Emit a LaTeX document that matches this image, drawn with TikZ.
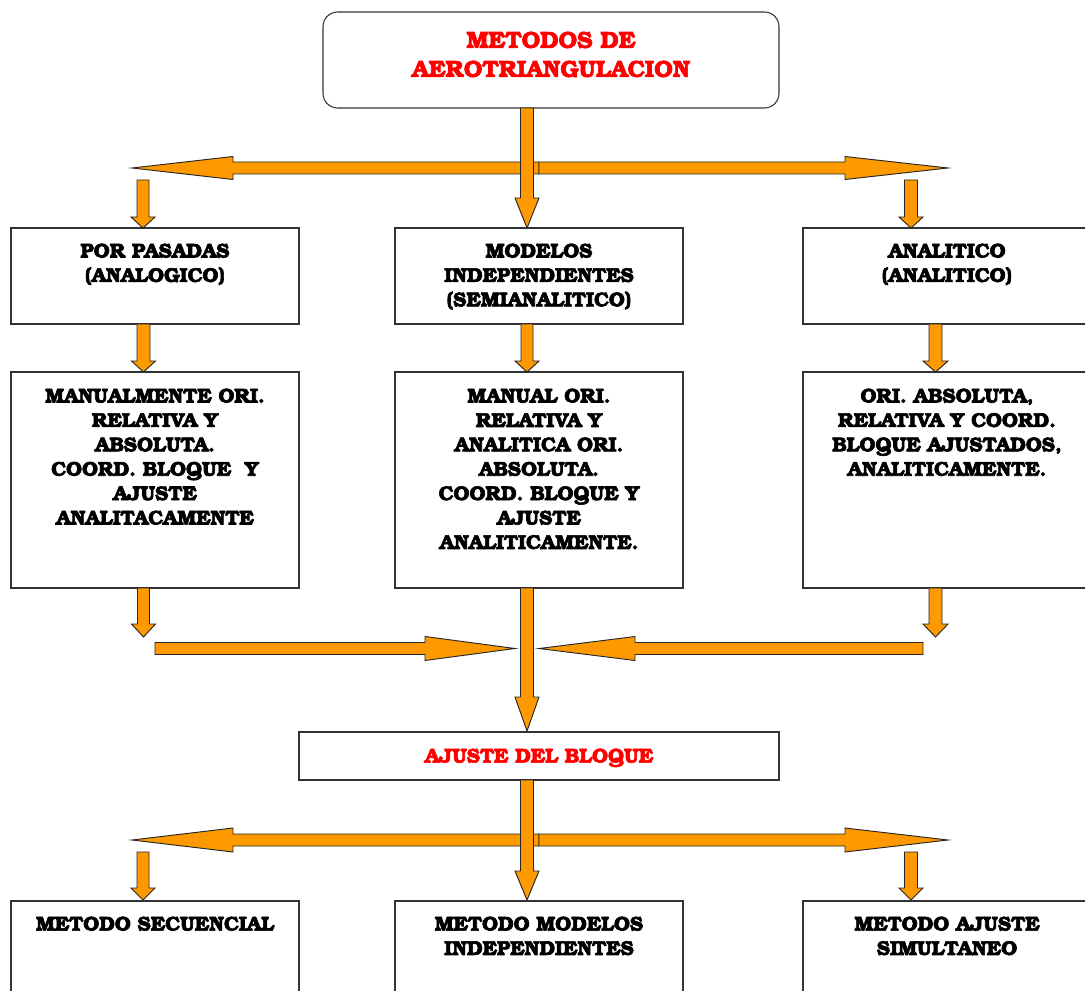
\documentclass[tikz,border=0pt]{standalone}
\usepackage[T1]{fontenc}
\usepackage{bookman}
\definecolor{arrorange}{RGB}{255,153,0}
\definecolor{titlered}{RGB}{255,0,0}
\newcommand\heavytext[1]{\special{pdf:literal direct 2 Tr 0.45 w}#1\special{pdf:literal direct 0 Tr}}
\tikzset{
  blk/.style={fill=arrorange, draw=black!85, line width=0.7pt, line join=miter},
  boxrect/.style={draw=black!80, line width=0.8pt, fill=white, inner sep=0pt},
  txt/.style={inner sep=0pt, align=center, font=\bfseries\fontsize{15}{18.3}\selectfont},
  ttl/.style={inner sep=0pt, align=center, text=titlered, font=\bfseries\fontsize{17.5}{21.75}\selectfont},
}
\newcommand\myvarrow[6]{% cx, ytop, ybase, ytip, shaft half, head half
  \draw[blk] ({#1-#5},#2) -- ({#1+#5},#2) -- ({#1+#5},#3) -- ({#1+#6},#3) -- (#1,#4) -- ({#1-#6},#3) -- ({#1-#5},#3) -- cycle;}
\newcommand\myharrow[6]{% cy, xstart, xbase, xtip, shaft half, head half
  \draw[blk] (#2,{#1-#5}) -- (#3,{#1-#5}) -- (#3,{#1-#6}) -- (#4,#1) -- (#3,{#1+#6}) -- (#3,{#1+#5}) -- (#2,{#1+#5}) -- cycle;}
\begin{document}
\begin{tikzpicture}[x=0.75pt,y=-0.75pt]
\useasboundingbox (0,0) rectangle (1085,991);
\clip (0,0) rectangle (1085,991);
% ---------- boxes ----------
\draw[boxrect, rounded corners=11pt] (323,12) rectangle (779,108);
\node[boxrect, minimum width=288*0.75pt, minimum height=96*0.75pt] (b1l) at (155,276) {};
\node[boxrect, minimum width=288*0.75pt, minimum height=96*0.75pt] (b1m) at (539,276) {};
\node[boxrect, minimum width=288*0.75pt, minimum height=96*0.75pt] (b1r) at (947,276) {};
\node[boxrect, minimum width=288*0.75pt, minimum height=216*0.75pt] (b2l) at (155,480) {};
\node[boxrect, minimum width=288*0.75pt, minimum height=216*0.75pt] (b2m) at (539,480) {};
\node[boxrect, minimum width=288*0.75pt, minimum height=216*0.75pt] (b2r) at (947,480) {};
\node[boxrect, minimum width=480*0.75pt, minimum height=48*0.75pt] (aj) at (539,756) {};
\node[boxrect, minimum width=288*0.75pt, minimum height=120*0.75pt] (b3l) at (155,961) {};
\node[boxrect, minimum width=288*0.75pt, minimum height=120*0.75pt] (b3m) at (539,961) {};
\node[boxrect, minimum width=288*0.75pt, minimum height=120*0.75pt] (b3r) at (947,961) {};
% ---------- texts ----------
\node[ttl, anchor=north] (ttl) at (551,31) {\heavytext{METODOS DE}\\\heavytext{AEROTRIANGULACION}};
\node[txt, anchor=north] (t1l) at (155,243) {\heavytext{POR PASADAS}\\\heavytext{(ANALOGICO)}};
\node[txt, anchor=north] (t1m) at (539,243) {\heavytext{MODELOS}\\\heavytext{INDEPENDIENTES}\\\heavytext{(SEMIANALITICO)}};
\node[txt, anchor=north] (t1r) at (947,243) {\heavytext{ANALITICO}\\\heavytext{(ANALITICO)}};
\node[txt, anchor=north] (t2l) at (155,388) {\heavytext{MANUALMENTE ORI.}\\\heavytext{RELATIVA Y}\\\heavytext{ABSOLUTA.}\\\heavytext{COORD. BLOQUE\ \ Y}\\\heavytext{AJUSTE}\\\heavytext{ANALITACAMENTE}};
\node[txt, anchor=north] (t2m) at (539,388) {\heavytext{MANUAL ORI.}\\\heavytext{RELATIVA Y}\\\heavytext{ANALITICA ORI.}\\\heavytext{ABSOLUTA.}\\\heavytext{COORD. BLOQUE Y}\\\heavytext{AJUSTE}\\\heavytext{ANALITICAMENTE.}};
\node[txt, anchor=north] (t2r) at (947,388) {\heavytext{ORI. ABSOLUTA,}\\\heavytext{RELATIVA Y COORD.}\\\heavytext{BLOQUE AJUSTADOS,}\\\heavytext{ANALITICAMENTE.}};
\node[txt, anchor=north, text=titlered] (taj) at (539,748) {\heavytext{AJUSTE DEL BLOQUE}};
\node[txt, anchor=north] (t3l) at (155,916) {\heavytext{METODO SECUENCIAL}};
\node[txt, anchor=north] (t3m) at (539,916) {\heavytext{METODO MODELOS}\\\heavytext{INDEPENDIENTES}};
\node[txt, anchor=north] (t3r) at (947,916) {\heavytext{METODO AJUSTE}\\\heavytext{SIMULTANEO}};
% ---------- arrows: top section ----------
\myharrow{168}{539}{233}{132}{6}{11.5}
\myharrow{168}{539}{845}{948}{6}{11.5}
\myvarrow{527}{108}{198}{228}{6.5}{12}
\myvarrow{143}{180}{217}{228}{6}{12}
\myvarrow{911}{180}{217}{228}{6.5}{12}
% ---------- row 1 -> row 2 ----------
\myvarrow{143.5}{324}{361}{372}{6.5}{12}
\myvarrow{527}{324}{361}{372}{6}{12}
\myvarrow{935.5}{324}{361}{372}{6.5}{12.5}
% ---------- row 2 -> ajuste ----------
\myvarrow{143.5}{588}{624}{637}{6}{12}
\myvarrow{935.5}{588}{624}{637}{6.5}{12.5}
\myharrow{648.5}{155}{425}{515}{6}{12}
\myharrow{648.5}{923}{635}{539}{6}{12}
\myvarrow{527}{588}{697}{731}{6.5}{12}
% ---------- bottom section ----------
\myharrow{840}{539}{233}{132}{6}{12}
\myharrow{840}{539}{845}{948}{6}{12}
\myvarrow{527}{780}{871}{900}{6.5}{12}
\myvarrow{143}{852}{888}{900}{6}{12}
\myvarrow{911}{852}{888}{900}{6.5}{12}
\end{tikzpicture}
\end{document}
